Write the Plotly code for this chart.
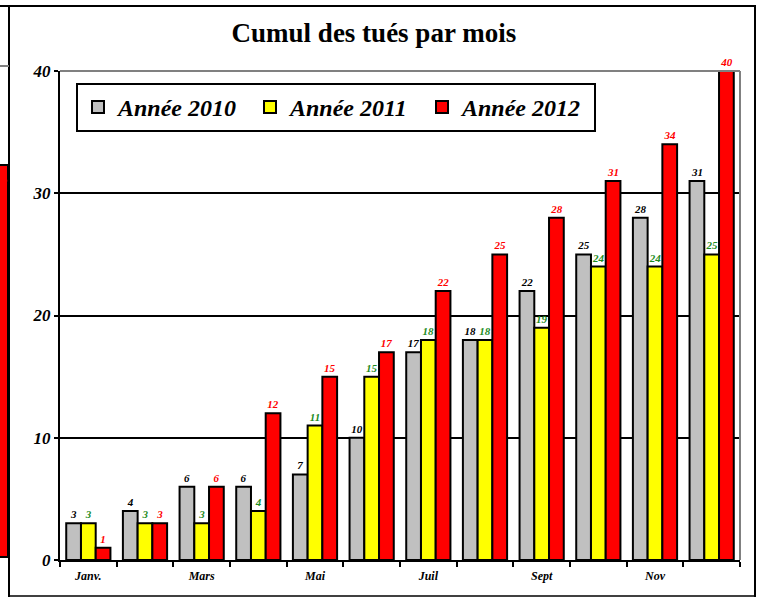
import plotly.graph_objects as go

months = ["Janv.", "Févr.", "Mars", "Avr.", "Mai", "Juin", "Juil", "Août", "Sept", "Oct", "Nov", "Déc."]
tick_labels = ["Janv.", "", "Mars", "", "Mai", "", "Juil", "", "Sept", "", "Nov", ""]
series_names = ["Année 2010", "Année 2011", "Année 2012"]
v2010 = [3, 4, 6, 6, 7, 10, 17, 18, 22, 25, 28, 31]
v2011 = [3, 3, 3, 4, 11, 15, 18, 18, 19, 24, 24, 25]
v2012 = [1, 3, 6, 12, 15, 17, 22, 25, 28, 31, 34, 40]
fills = ["#C0C0C0", "#FFFF00", "#FF0000"]
label_colors = ["#000000", "#1E8C1E", "#FF0000"]

W, H = 763, 597
L, R, T, B = 60, 740, 71, 560

def px(x):
    return (x - L) / (R - L)

def py(y):
    return (B - y) / (B - T)

FONT = "Liberation Serif"
xs = list(range(len(months)))

fig = go.Figure()
for name, vals, fc, lc in zip(series_names, [v2010, v2011, v2012], fills, label_colors):
    fig.add_trace(go.Bar(
        x=xs, y=vals, name=name,
        marker=dict(color=fc, line=dict(color="black", width=2)),
        text=[str(v) for v in vals], textposition="outside",
        textfont=dict(family=FONT, size=11, color=lc, weight="bold", style="italic"),
        cliponaxis=False,
    ))

shapes = [
    # plot area top/right gray border
    dict(type="line", xref="paper", yref="paper", x0=0, x1=1, y0=1, y1=1, line=dict(color="#808080", width=2)),
    dict(type="line", xref="paper", yref="paper", x0=1, x1=1, y0=0, y1=1, line=dict(color="#808080", width=2)),
    # outer frame
    dict(type="line", xref="paper", yref="paper", x0=px(0), x1=px(756), y0=py(6), y1=py(6), line=dict(color="black", width=2)),
    dict(type="line", xref="paper", yref="paper", x0=px(9), x1=px(9), y0=py(6), y1=py(597), line=dict(color="black", width=2)),
    dict(type="line", xref="paper", yref="paper", x0=px(755), x1=px(755), y0=py(6), y1=py(597), line=dict(color="black", width=2)),
    dict(type="line", xref="paper", yref="paper", x0=px(9), x1=px(755), y0=py(596), y1=py(596), line=dict(color="black", width=1.5)),
    # fragment of neighbouring chart on the left edge
    dict(type="line", xref="paper", yref="paper", x0=px(0), x1=px(9), y0=py(66), y1=py(66), line=dict(color="#808080", width=2)),
    dict(type="rect", xref="paper", yref="paper", x0=px(-2), x1=px(8), y0=py(557), y1=py(165), fillcolor="#FF0000", line=dict(color="black", width=2)),
]

fig.update_layout(
    width=W, height=H,
    margin=dict(l=L, r=W - R, t=T, b=H - B),
    paper_bgcolor="white", plot_bgcolor="white",
    barmode="group", bargap=0.22, bargroupgap=0,
    title=dict(text="<b>Cumul des tués par mois</b>", x=0.49, xanchor="center", y=1 - 33 / H, yanchor="middle",
               font=dict(family=FONT, size=27, color="black")),
    showlegend=True,
    legend=dict(orientation="h", x=px(76), y=py(83), xanchor="left", yanchor="top",
                bgcolor="white", bordercolor="black", borderwidth=2,
                font=dict(family=FONT, size=24, color="black", weight="bold", style="italic"),
                entrywidth=127, itemwidth=30, tracegroupgap=0),
    xaxis=dict(
        range=[-0.5, 11.5], tickmode="array", tickvals=xs, ticktext=tick_labels,
        ticks="", showgrid=False, zeroline=False,
        showline=True, linecolor="black", linewidth=2, ticklabelstandoff=4,
        tickfont=dict(family=FONT, size=12, color="black", weight="bold", style="italic"),
        minor=dict(tickmode="array", tickvals=[i + 0.5 for i in range(-1, 12)], ticks="outside",
                   ticklen=5, tickwidth=2, tickcolor="black", showgrid=False),
    ),
    yaxis=dict(
        range=[0, 40], tickmode="array", tickvals=[0, 10, 20, 30, 40],
        ticks="outside", ticklen=4, tickwidth=2, tickcolor="black",
        showgrid=True, gridcolor="black", gridwidth=1.5, zeroline=False,
        showline=True, linecolor="black", linewidth=2,
        tickfont=dict(family=FONT, size=17, color="black", weight="bold", style="italic"),
    ),
    shapes=shapes,
    annotations=[dict(text="<b><i>28</i></b>", xref="paper", yref="paper", x=px(9), y=py(182),
                      xanchor="right", yanchor="middle", showarrow=False,
                      font=dict(family=FONT, size=10, color="#FF0000"))],
)

fig.write_html("out.html", config={"displayModeBar": False},
               post_script="document.body.style.margin='0';document.body.style.overflow='hidden';")
